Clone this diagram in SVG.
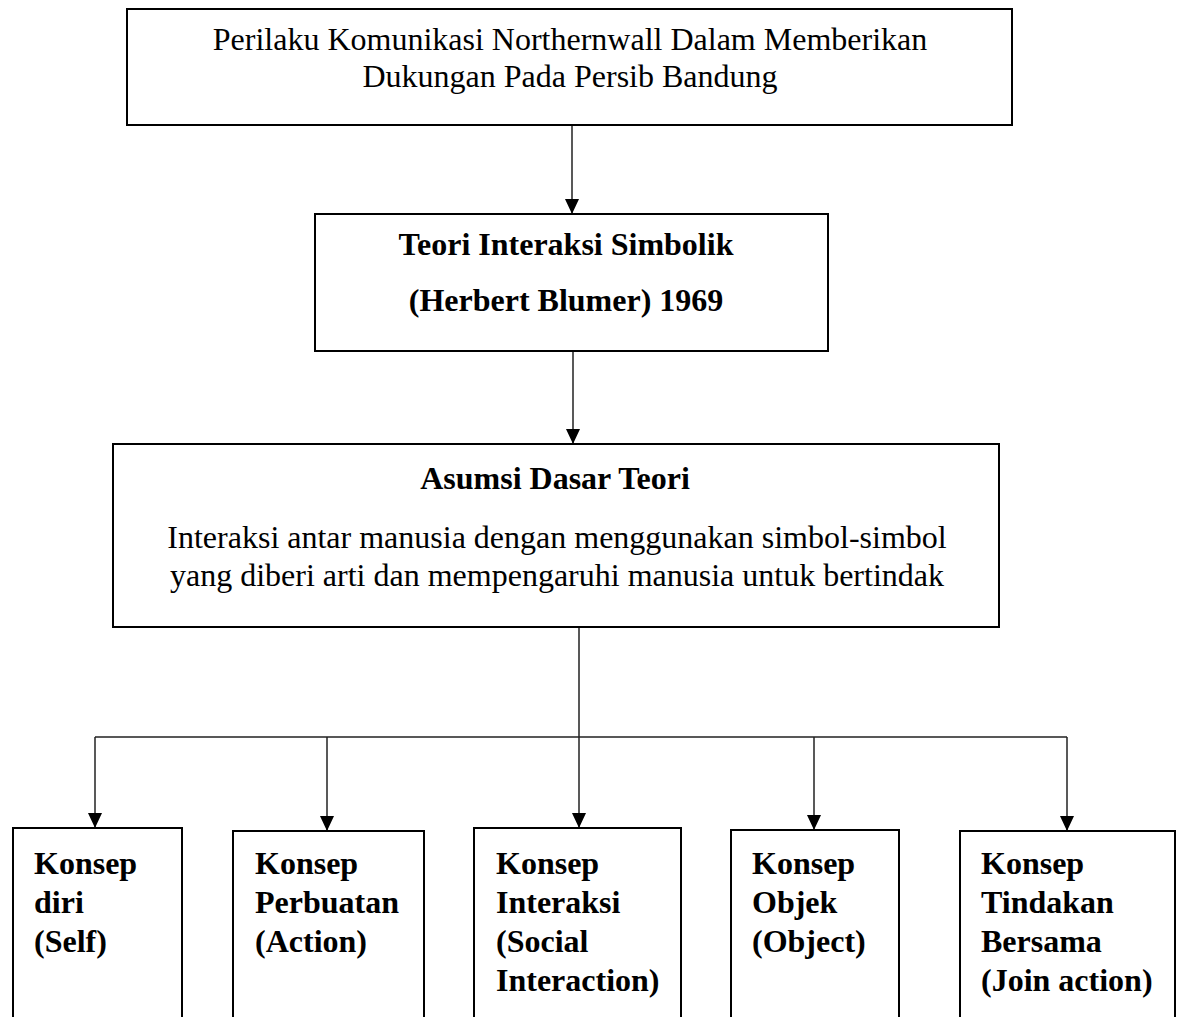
<svg xmlns="http://www.w3.org/2000/svg" width="1178" height="1017" viewBox="0 0 1178 1017">
<style>
.box{fill:#fff;stroke:#000;stroke-width:2}
.t{font-family:"Liberation Serif","Times New Roman",serif;font-size:32px;fill:#000}
.b{font-weight:bold}
.c{text-anchor:middle}
.ln{fill:none;stroke:#222;stroke-width:1.5}
.arr{marker-end:url(#ah)}
</style>
<defs>
<marker id="ah" markerUnits="userSpaceOnUse" markerWidth="15" markerHeight="14" refX="15" refY="7" orient="auto" viewBox="0 0 15 14">
<path d="M0,0 L15,7 L0,14 Z" fill="#000"/>
</marker>
</defs>
<rect width="1178" height="1017" fill="#fff"/>
<g id="connectors">
<path class="ln arr" d="M572,125 V214"/>
<path class="ln arr" d="M573,351 V444"/>
<path class="ln" d="M579,627 V737 M95,737 H1067"/>
<path class="ln arr" d="M95,737 V828"/>
<path class="ln arr" d="M327,737 V831"/>
<path class="ln arr" d="M579,737 V828"/>
<path class="ln arr" d="M814,737 V830"/>
<path class="ln arr" d="M1067,737 V831"/>
</g>
<g id="node-top">
<rect class="box" x="127" y="9" width="885" height="116"/>
<text class="t c" x="570" y="50">Perilaku Komunikasi Northernwall Dalam Memberikan</text>
<text class="t c" x="570" y="87">Dukungan Pada Persib Bandung</text>
</g>
<g id="node-teori">
<rect class="box" x="315" y="214" width="513" height="137"/>
<text class="t b c" x="566" y="255">Teori Interaksi Simbolik</text>
<text class="t b c" x="566" y="311">(Herbert Blumer) 1969</text>
</g>
<g id="node-asumsi">
<rect class="box" x="113" y="444" width="886" height="183"/>
<text class="t b c" x="555" y="489">Asumsi Dasar Teori</text>
<text class="t c" x="557" y="548">Interaksi antar manusia dengan menggunakan simbol-simbol</text>
<text class="t c" x="557" y="586">yang diberi arti dan mempengaruhi manusia untuk bertindak</text>
</g>
<g id="node-self">
<rect class="box" x="13" y="828" width="169" height="210"/>
<text class="t b"><tspan x="34" y="874">Konsep</tspan><tspan x="34" y="913">diri</tspan><tspan x="34" y="952">(Self)</tspan></text>
</g>
<g id="node-action">
<rect class="box" x="233" y="831" width="191" height="210"/>
<text class="t b"><tspan x="255" y="874">Konsep</tspan><tspan x="255" y="913">Perbuatan</tspan><tspan x="255" y="952">(Action)</tspan></text>
</g>
<g id="node-social">
<rect class="box" x="474" y="828" width="207" height="210"/>
<text class="t b"><tspan x="496" y="874">Konsep</tspan><tspan x="496" y="913">Interaksi</tspan><tspan x="496" y="952">(Social</tspan><tspan x="496" y="991">Interaction)</tspan></text>
</g>
<g id="node-object">
<rect class="box" x="731" y="830" width="168" height="210"/>
<text class="t b"><tspan x="752" y="874">Konsep</tspan><tspan x="752" y="913">Objek</tspan><tspan x="752" y="952">(Object)</tspan></text>
</g>
<g id="node-join">
<rect class="box" x="960" y="831" width="215" height="210"/>
<text class="t b"><tspan x="981" y="874">Konsep</tspan><tspan x="981" y="913">Tindakan</tspan><tspan x="981" y="952">Bersama</tspan><tspan x="981" y="991">(Join action)</tspan></text>
</g>
</svg>
